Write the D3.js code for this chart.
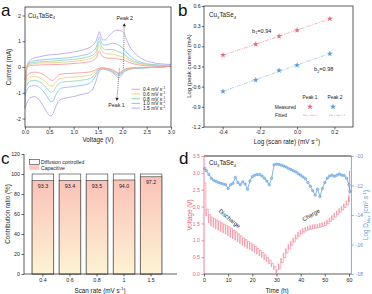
<!DOCTYPE html>
<html>
<head>
<meta charset="utf-8">
<script src="https://cdn.jsdelivr.net/npm/d3@7"></script>
<style>
  body { margin: 0; background: #fff; }
  svg text { font-family: "Liberation Sans", Arial, sans-serif; }
</style>
</head>
<body>
<svg id="fig" width="372" height="294"></svg>
<script>
const FONT = "Liberation Sans, Arial, sans-serif";

// ---- panel a : CV curves ----
const cvRates = ["0.4", "0.6", "0.8", "1.0", "1.5"];
const cvColors = ["#f29ea4", "#f5cd84", "#8ddbb7", "#8ec2ee", "#b9a6ec"];
const anodicV = [0, 0.04, 0.08, 0.15, 0.3, 0.5, 0.7, 0.9, 1.1, 1.25, 1.35, 1.42, 1.47, 1.51, 1.53, 1.56, 1.6, 1.65, 1.72, 1.8, 1.88, 1.95, 2.0, 2.04, 2.08, 2.15, 2.25, 2.4, 2.6, 2.8, 3.0];
const anodicI = [
  [-0.5, 0.0, 0.04, 0.06, 0.08, 0.09, 0.1, 0.12, 0.15, 0.18, 0.22, 0.28, 0.38, 0.58, 0.62, 0.5, 0.4, 0.36, 0.34, 0.34, 0.32, 0.3, 0.28, 0.26, 0.22, 0.17, 0.11, 0.06, 0.04, 0.03, 0.03],
  [-0.75, 0.0, 0.08, 0.12, 0.15, 0.16, 0.18, 0.2, 0.24, 0.28, 0.33, 0.4, 0.52, 0.8, 0.85, 0.7, 0.58, 0.53, 0.5, 0.5, 0.46, 0.42, 0.4, 0.37, 0.33, 0.26, 0.17, 0.1, 0.06, 0.05, 0.04],
  [-0.9, 0.0, 0.12, 0.17, 0.2, 0.22, 0.25, 0.28, 0.32, 0.37, 0.43, 0.5, 0.65, 0.95, 1.0, 0.85, 0.72, 0.68, 0.68, 0.68, 0.63, 0.57, 0.52, 0.48, 0.42, 0.33, 0.22, 0.13, 0.08, 0.06, 0.05],
  [-1.1, 0.0, 0.16, 0.22, 0.27, 0.3, 0.33, 0.36, 0.42, 0.48, 0.55, 0.65, 0.8, 1.1, 1.17, 1.0, 0.88, 0.85, 0.88, 0.92, 0.9, 0.82, 0.75, 0.68, 0.58, 0.45, 0.3, 0.17, 0.1, 0.07, 0.06],
  [-1.6, 0.0, 0.22, 0.32, 0.4, 0.47, 0.5, 0.55, 0.62, 0.7, 0.78, 0.9, 1.05, 1.3, 1.37, 1.2, 1.05, 1.05, 1.2, 1.35, 1.43, 1.42, 1.38, 1.3, 1.1, 0.8, 0.55, 0.32, 0.18, 0.12, 0.1]
];
const cathodicV = [0, 0.05, 0.1, 0.2, 0.3, 0.4, 0.47, 0.53, 0.58, 0.63, 0.7, 0.8, 0.9, 1.0, 1.1, 1.2, 1.3, 1.38, 1.45, 1.52, 1.6, 1.7, 1.8, 1.86, 1.9, 1.93, 1.97, 2.02, 2.1, 2.2, 2.4, 2.6, 2.8, 3.0];
const cathodicI = [
  [-0.5, -0.32, -0.24, -0.2, -0.23, -0.32, -0.42, -0.5, -0.52, -0.42, -0.3, -0.26, -0.25, -0.24, -0.23, -0.22, -0.2, -0.17, -0.11, -0.05, -0.03, -0.06, -0.11, -0.17, -0.22, -0.24, -0.19, -0.11, -0.06, -0.03, -0.02, -0.01, 0, 0.03],
  [-0.75, -0.5, -0.4, -0.37, -0.42, -0.53, -0.66, -0.75, -0.74, -0.6, -0.47, -0.42, -0.4, -0.39, -0.37, -0.35, -0.33, -0.28, -0.18, -0.07, -0.04, -0.07, -0.13, -0.19, -0.24, -0.26, -0.21, -0.13, -0.07, -0.04, -0.02, -0.01, 0, 0.04],
  [-0.9, -0.65, -0.55, -0.52, -0.58, -0.72, -0.88, -0.98, -0.95, -0.8, -0.64, -0.58, -0.56, -0.55, -0.53, -0.5, -0.47, -0.4, -0.25, -0.09, -0.05, -0.08, -0.15, -0.22, -0.27, -0.29, -0.24, -0.15, -0.08, -0.05, -0.03, -0.02, -0.01, 0.05],
  [-1.1, -0.85, -0.75, -0.72, -0.8, -1.0, -1.2, -1.35, -1.32, -1.1, -0.88, -0.8, -0.78, -0.76, -0.73, -0.7, -0.66, -0.55, -0.35, -0.12, -0.06, -0.1, -0.18, -0.26, -0.32, -0.34, -0.28, -0.18, -0.1, -0.06, -0.03, -0.02, -0.01, 0.06],
  [-1.6, -1.35, -1.2, -1.15, -1.3, -1.6, -1.82, -1.9, -1.8, -1.55, -1.3, -1.22, -1.18, -1.15, -1.1, -1.05, -1.0, -0.9, -0.6, -0.2, -0.08, -0.12, -0.22, -0.32, -0.4, -0.42, -0.35, -0.22, -0.12, -0.07, -0.04, -0.02, -0.01, 0.1]
];

// ---- panel b : log(i) vs log(v) ----
const logRate = [-0.398, -0.222, -0.097, 0, 0.176];
const logPeak1 = [-0.13, 0.03, 0.15, 0.24, 0.41];
const logPeak2 = [-0.67, -0.50, -0.36, -0.28, -0.11];

// ---- panel c : contribution ratio ----
const scanRates = ["0.4", "0.6", "0.8", "1", "1.5"];
const capacitive = [93.3, 93.4, 93.5, 94.0, 97.2];

// ---- panel d : GITT ----
const gittTime = [1, 2, 3, 4, 5, 6, 7, 8, 9, 10, 11, 12, 13, 14, 15, 16, 17, 18, 19, 20, 21, 22, 23, 24, 25, 26, 27, 28, 29, 30,
  31, 32, 33, 34, 35, 36, 37, 38, 39, 40, 41, 42, 43, 44, 45, 46, 47, 48, 49, 50, 51, 52, 53, 54, 55, 56, 57, 58, 59, 60];
const relaxV = [1.92, 1.76, 1.68, 1.64, 1.6, 1.56, 1.52, 1.48, 1.44, 1.4, 1.35, 1.3, 1.25, 1.19, 1.13, 1.07, 1.02, 0.97, 0.92, 0.87, 0.82, 0.76, 0.7, 0.64, 0.57, 0.49, 0.41, 0.32, 0.22, 0.12,
  0.15, 0.33, 0.48, 0.62, 0.74, 0.85, 0.95, 1.04, 1.12, 1.19, 1.24, 1.28, 1.31, 1.33, 1.35, 1.36, 1.37, 1.39, 1.41, 1.44, 1.49, 1.55, 1.62, 1.69, 1.76, 1.83, 1.9, 1.97, 2.05, 2.14];
const loadV = [1.72, 1.52, 1.43, 1.38, 1.34, 1.3, 1.26, 1.22, 1.18, 1.14, 1.09, 1.05, 1.0, 0.95, 0.9, 0.85, 0.8, 0.76, 0.72, 0.68, 0.64, 0.59, 0.54, 0.49, 0.43, 0.37, 0.3, 0.22, 0.13, 0.03,
  0.3, 0.47, 0.62, 0.75, 0.87, 0.97, 1.07, 1.16, 1.24, 1.3, 1.35, 1.39, 1.42, 1.44, 1.46, 1.47, 1.48, 1.5, 1.52, 1.55, 1.6, 1.66, 1.73, 1.8, 1.87, 1.94, 2.01, 2.08, 2.17, 2.3];
const ocvStart = 2.7;
const endTime = [60.2, 60.3];
const endV = [3.05, 2.45];
const dTime = [0.3, 1, 2, 3, 4, 5, 6, 7, 8, 9, 10, 11, 12, 13, 14, 15, 16, 17, 18, 19, 20, 21, 22, 23, 24, 25, 26, 27, 28, 29, 30,
  31, 32, 33, 34, 35, 36, 37, 38, 39, 40, 41, 42, 43, 44, 45, 46, 47, 48, 49, 50, 51, 52, 53, 54, 55, 56, 57, 58, 59, 60, 60.4];
const logD = [-10.85, -11.0, -11.25, -11.5, -11.65, -11.72, -11.8, -11.85, -11.9, -11.95, -12.2, -11.95, -11.85, -11.45, -11.8, -11.95, -11.75, -11.9, -12.25, -11.7, -11.4, -11.3, -11.25, -11.25, -11.35, -11.5, -11.7, -11.95, -11.5, -10.6, -10.55,
  -10.57, -10.62, -10.68, -10.75, -10.85, -10.92, -11.0, -11.08, -11.2, -11.3, -11.42, -11.55, -11.8, -12.05, -12.35, -12.65, -12.25, -12.75, -12.2, -11.8, -11.5, -11.35, -11.3, -11.38, -11.3, -11.22, -11.3, -11.32, -11.5, -11.95, -12.4];

const svg = d3.select("#fig");
const fmt1 = d => d3.format(".1f")(d).replace("\u2212", "-");

function styleAxis(g, color, fs) {
  g.attr("font-family", FONT);
  g.select(".domain").remove();
  g.selectAll(".tick line").attr("stroke", color).attr("stroke-width", 0.7);
  g.selectAll(".tick text").attr("fill", color).attr("font-size", fs);
}

function label(g, x, y, str, size, opts) {
  opts = opts || {};
  const t = g.append("text").attr("x", x).attr("y", y).attr("font-size", size)
    .attr("text-anchor", opts.anchor || "start").attr("fill", opts.color || "#222");
  if (opts.rotate) t.attr("transform", "rotate(" + opts.rotate + "," + x + "," + y + ")");
  if (str) t.text(str);
  return t;
}

// pieces: [text, "sub"|"sup"|null]
function rich(t, pieces, size) {
  let shift = 0;
  pieces.forEach(p => {
    const sp = t.append("tspan").text(p[0]);
    let target = 0;
    if (p[1] === "sub") target = size * 0.28;
    if (p[1] === "sup") target = -size * 0.38;
    if (target !== shift) sp.attr("dy", target - shift);
    if (p[1]) sp.attr("font-size", size * 0.68);
    shift = target;
  });
}

function formula(g, x, y, size) {
  rich(label(g, x, y, "", size), [["Cu"], ["3", "sub"], ["TaSe"], ["4", "sub"]], size);
}

// ===================== panel a =====================
const gA = svg.append("g");
const xA = d3.scaleLinear().domain([0, 3]).range([25, 171]);
const yA = d3.scaleLinear().domain([-2.33, 2.33]).range([127, 7]);
const cvLine = d3.line().x(d => xA(d[0])).y(d => yA(d[1])).curve(d3.curveMonotoneX);

for (let i = cvRates.length - 1; i >= 0; i--) {
  const up = anodicV.map((v, j) => [v, anodicI[i][j]]);
  const dn = cathodicV.map((v, j) => [v, cathodicI[i][j]]);
  [up, dn].forEach(pts => {
    gA.append("path").attr("d", cvLine(pts)).attr("fill", "none")
      .attr("stroke", cvColors[i]).attr("stroke-width", 0.9);
  });
}

gA.append("g").attr("transform", "translate(0,127)")
  .call(d3.axisBottom(xA).tickValues([0, 0.5, 1, 1.5, 2, 2.5, 3]).tickFormat(fmt1).tickSize(2.5).tickPadding(1.2))
  .call(g => styleAxis(g, "#222", 5.3));
gA.append("g").attr("transform", "translate(25,0)")
  .call(d3.axisLeft(yA).tickValues([-2, -1, 0, 1, 2]).tickFormat(d => String(d)).tickSize(2.5).tickPadding(1.5))
  .call(g => styleAxis(g, "#222", 5.3));
gA.append("rect").attr("x", 25).attr("y", 7).attr("width", 146).attr("height", 120)
  .attr("fill", "none").attr("stroke", "#333").attr("stroke-width", 0.8);

// peak annotations
function arrow(g, x1, y1, x2, y2) {
  g.append("line").attr("x1", x1).attr("y1", y1).attr("x2", x2).attr("y2", y2)
    .attr("stroke", "#333").attr("stroke-width", 0.6).attr("stroke-dasharray", "1.2,0.9");
  const ang = Math.atan2(y2 - y1, x2 - x1) * 180 / Math.PI + 90;
  g.append("path").attr("d", d3.symbol(d3.symbolTriangle, 5)())
    .attr("transform", "translate(" + x2 + "," + y2 + ") rotate(" + ang + ")").attr("fill", "#222");
}
arrow(gA, xA(2.02), yA(-0.05), xA(2.04), yA(1.62));
arrow(gA, xA(1.94), yA(-0.05), xA(1.89), yA(-1.24));
label(gA, xA(2.05), yA(1.82), "Peak 2", 5.3, { anchor: "middle" });
label(gA, xA(1.88), yA(-1.57), "Peak 1", 5.3, { anchor: "middle" });

// legend a
cvRates.forEach((r, i) => {
  const y = 89.3 + i * 4.7;
  gA.append("line").attr("x1", 131.5).attr("x2", 140).attr("y1", y).attr("y2", y)
    .attr("stroke", cvColors[i]).attr("stroke-width", 1);
  rich(label(gA, 143, y + 1.8, "", 4.9), [[r + " mV s"], ["-1", "sup"]], 4.9);
});

formula(gA, 28, 17.5, 6.3);
label(gA, 11, 67, "Current (mA)", 6.3, { anchor: "middle", rotate: -90 });
label(gA, 98, 141.5, "Voltage (V)", 6.3, { anchor: "middle" });
label(svg, 1, 15.5, "a", 17, { color: "#111" });

// ===================== panel b =====================
const gB = svg.append("g");
const xB = d3.scaleLinear().domain([-0.5, 0.3]).range([204, 353]);
const yB = d3.scaleLinear().domain([-1.2, 0.6]).range([127, 6]);

function fit(xs, ys) {
  const mx = d3.mean(xs), my = d3.mean(ys);
  const k = d3.sum(xs, (x, i) => (x - mx) * (ys[i] - my)) / d3.sum(xs, x => (x - mx) * (x - mx));
  return [k, my - k * mx];
}
const peakSets = [
  { ys: logPeak1, mark: "#e9697d", line: "#f2a3ad" },
  { ys: logPeak2, mark: "#5d98d8", line: "#9dc5ee" }
];
peakSets.forEach(s => {
  const [k, b0] = fit(logRate, s.ys);
  const x0 = logRate[0], x1 = logRate[logRate.length - 1];
  gB.append("line").attr("x1", xB(x0)).attr("y1", yB(k * x0 + b0)).attr("x2", xB(x1)).attr("y2", yB(k * x1 + b0))
    .attr("stroke", s.line).attr("stroke-width", 0.8).attr("stroke-dasharray", "4,1.2,1,1.2");
  gB.selectAll(null).data(logRate).enter().append("path")
    .attr("d", d3.symbol(d3.symbolStar, 11)())
    .attr("transform", (d, i) => "translate(" + xB(d) + "," + yB(s.ys[i]) + ")")
    .attr("fill", s.mark);
});

gB.append("g").attr("transform", "translate(0,127)")
  .call(d3.axisBottom(xB).tickValues([-0.4, -0.2, 0, 0.2]).tickFormat(fmt1).tickSize(2.5).tickPadding(1.2))
  .call(g => styleAxis(g, "#222", 5.3));
gB.append("g").attr("transform", "translate(204,0)")
  .call(d3.axisLeft(yB).tickValues([-1.2, -0.9, -0.6, -0.3, 0, 0.3, 0.6]).tickFormat(fmt1).tickSize(2.2).tickPadding(1.2))
  .call(g => styleAxis(g, "#222", 5.1));
gB.append("rect").attr("x", 204).attr("y", 6).attr("width", 149).attr("height", 121)
  .attr("fill", "none").attr("stroke", "#333").attr("stroke-width", 0.8);

formula(gB, 209, 17, 6.3);
rich(label(gB, 252, 32.5, "", 5.6), [["b"], ["1", "sub"], ["=0.94"]], 5.6);
rich(label(gB, 314, 71, "", 5.6), [["b"], ["2", "sub"], ["=0.98"]], 5.6);
label(gB, 310, 99, "Peak 1", 4.8, { anchor: "middle" });
label(gB, 335, 99, "Peak 2", 4.8, { anchor: "middle" });
label(gB, 296, 108.5, "Measured", 4.8, { anchor: "end" });
label(gB, 275, 117, "Fitted", 4.8);
[[310, 0], [333, 1]].forEach(([x, i]) => {
  gB.append("path").attr("d", d3.symbol(d3.symbolStar, 11)())
    .attr("transform", "translate(" + x + ",106.8)").attr("fill", peakSets[i].mark);
});
[[303, 318, 0], [329, 345, 1]].forEach(([a, b, i]) => {
  gB.append("line").attr("x1", a).attr("x2", b).attr("y1", 115.3).attr("y2", 115.3)
    .attr("stroke", peakSets[i].line).attr("stroke-width", 0.8).attr("stroke-dasharray", "4,1.2,1,1.2");
});
label(gB, 190.5, 66, "Log (peak current) (mA)", 6, { anchor: "middle", rotate: -90 });
rich(label(gB, 287, 143.5, "", 6.3, { anchor: "middle" }), [["Log (scan rate) (mV s"], ["-1", "sup"], [")"]], 6.3);
label(svg, 178, 15.5, "b", 17, { color: "#111" });

// ===================== panel c =====================
const gC = svg.append("g");
const defs = svg.append("defs");
const grad = defs.append("linearGradient").attr("id", "capGrad").attr("x1", 0).attr("y1", 0).attr("x2", 0).attr("y2", 1);
grad.append("stop").attr("offset", "0%").attr("stop-color", "#fac2b8");
grad.append("stop").attr("offset", "100%").attr("stop-color", "#fdf3d4");

const xC = d3.scaleBand().domain(scanRates).range([24, 170]).paddingInner(0.2).paddingOuter(0.3);
const yC = d3.scaleLinear().domain([0, 120]).range([274, 154]);

scanRates.forEach((r, i) => {
  gC.append("rect").attr("x", xC(r)).attr("y", yC(100)).attr("width", xC.bandwidth()).attr("height", yC(0) - yC(100))
    .attr("fill", "#fff").attr("stroke", "#333").attr("stroke-width", 0.6);
  gC.append("rect").attr("x", xC(r)).attr("y", yC(capacitive[i])).attr("width", xC.bandwidth()).attr("height", yC(0) - yC(capacitive[i]))
    .attr("fill", "url(#capGrad)").attr("stroke", "#333").attr("stroke-width", 0.6);
  label(gC, xC(r) + xC.bandwidth() / 2, yC(capacitive[i]) + 7.5, capacitive[i].toFixed(1), 5.3, { anchor: "middle" });
});

gC.append("g").attr("transform", "translate(0,274)")
  .call(d3.axisBottom(xC).tickSize(2.5).tickPadding(1.5))
  .call(g => styleAxis(g, "#222", 5.3));
gC.append("g").attr("transform", "translate(24,0)")
  .call(d3.axisLeft(yC).tickValues([0, 20, 40, 60, 80, 100, 120]).tickSize(2.5).tickPadding(1.5))
  .call(g => styleAxis(g, "#222", 5.3));
gC.append("line").attr("x1", 24).attr("x2", 24).attr("y1", 154).attr("y2", 274).attr("stroke", "#333").attr("stroke-width", 0.8);
gC.append("line").attr("x1", 24).attr("x2", 177).attr("y1", 274).attr("y2", 274).attr("stroke", "#333").attr("stroke-width", 0.8);

gC.append("rect").attr("x", 29.3).attr("y", 159.5).attr("width", 10).attr("height", 4.8)
  .attr("fill", "#fff").attr("stroke", "#333").attr("stroke-width", 0.6);
gC.append("rect").attr("x", 29.3).attr("y", 165.2).attr("width", 10).attr("height", 4.6)
  .attr("fill", "#fbc8bd").attr("stroke", "none");
label(gC, 41, 163.8, "Diffusion controlled", 5.1);
label(gC, 41, 169.5, "Capacitive", 5.1);
label(gC, 9.5, 214, "Contribution ratio (%)", 6.3, { anchor: "middle", rotate: -90 });
rich(label(gC, 100, 292.5, "", 6.3, { anchor: "middle" }), [["Scan rate (mV s"], ["-1", "sup"], [")"]], 6.3);
label(svg, 1, 163.5, "c", 17, { color: "#111" });

// ===================== panel d =====================
const gD = svg.append("g");
const xD = d3.scaleLinear().domain([0, 61]).range([204, 351.4]);
const yDv = d3.scaleLinear().domain([0, 3.5]).range([274, 156]);
const yDd = d3.scaleLinear().domain([-18, -10]).range([274, 156]);
const RED = "#e8667c", BLUE = "#5b98d6";

const pw = 0.22; // current pulse length (h)
const vPts = [[0, ocvStart]];
let prevV = ocvStart;
gittTime.forEach((t, k) => {
  vPts.push([t - pw, prevV], [t - pw, loadV[k]], [t, loadV[k]], [t, relaxV[k]]);
  prevV = relaxV[k];
});
endTime.forEach((t, k) => vPts.push([t, endV[k]]));
gD.append("path").attr("d", d3.line().x(d => xD(d[0])).y(d => yDv(d[1]))(vPts))
  .attr("fill", "none").attr("stroke", RED).attr("stroke-width", 0.5);

const dPts = dTime.map((t, i) => [t, logD[i]]);
gD.append("path").attr("d", d3.line().x(d => xD(d[0])).y(d => yDd(d[1]))(dPts))
  .attr("fill", "none").attr("stroke", BLUE).attr("stroke-width", 0.7);
gD.selectAll(null).data(dPts).enter().append("circle")
  .attr("cx", d => xD(d[0])).attr("cy", d => yDd(d[1])).attr("r", 1.25)
  .attr("fill", "#9fc6ee").attr("stroke", BLUE).attr("stroke-width", 0.5);

gD.append("g").attr("transform", "translate(0,274)")
  .call(d3.axisBottom(xD).tickValues([0, 10, 20, 30, 40, 50, 60]).tickSize(2.5).tickPadding(1.5))
  .call(g => styleAxis(g, "#222", 5.3));
gD.append("g").attr("transform", "translate(204,0)")
  .call(d3.axisLeft(yDv).tickValues([0, 0.5, 1, 1.5, 2, 2.5, 3, 3.5]).tickFormat(fmt1).tickSize(2.5).tickPadding(1.5))
  .call(g => styleAxis(g, RED, 5.3));
gD.append("g").attr("transform", "translate(351.4,0)")
  .call(d3.axisRight(yDd).tickValues([-18, -16, -14, -12, -10]).tickFormat(d => String(d)).tickSize(2.5).tickPadding(1.5))
  .call(g => styleAxis(g, BLUE, 5.3));
gD.append("line").attr("x1", 204).attr("x2", 351.4).attr("y1", 274).attr("y2", 274).attr("stroke", "#333").attr("stroke-width", 0.8);
gD.append("line").attr("x1", 204).attr("x2", 351.4).attr("y1", 156).attr("y2", 156).attr("stroke", "#777").attr("stroke-width", 1.3);
gD.append("line").attr("x1", 204).attr("x2", 204).attr("y1", 156).attr("y2", 274).attr("stroke", RED).attr("stroke-width", 0.8);
gD.append("line").attr("x1", 351.4).attr("x2", 351.4).attr("y1", 156).attr("y2", 274).attr("stroke", BLUE).attr("stroke-width", 0.8);

formula(gD, 209, 165, 6.3);
label(gD, xD(10), yDv(1.6), "Discharge", 5.8, { anchor: "middle", rotate: 40 });
label(gD, xD(44.7), yDv(1.7), "Charge", 5.8, { anchor: "middle", rotate: -30 });
label(gD, 191.5, 215, "Voltage (V)", 6.3, { anchor: "middle", rotate: -90, color: RED });
rich(label(gD, 368, 215, "", 6.3, { anchor: "middle", rotate: -90, color: BLUE }),
  [["Log D"], ["Na+", "sub"], [" (cm"], ["2", "sup"], [" s"], ["-1", "sup"], [")"]], 6.3);
label(gD, 277, 292.5, "Time (h)", 6.3, { anchor: "middle" });
label(svg, 179, 163.5, "d", 17, { color: "#111" });
</script>
</body>
</html>
